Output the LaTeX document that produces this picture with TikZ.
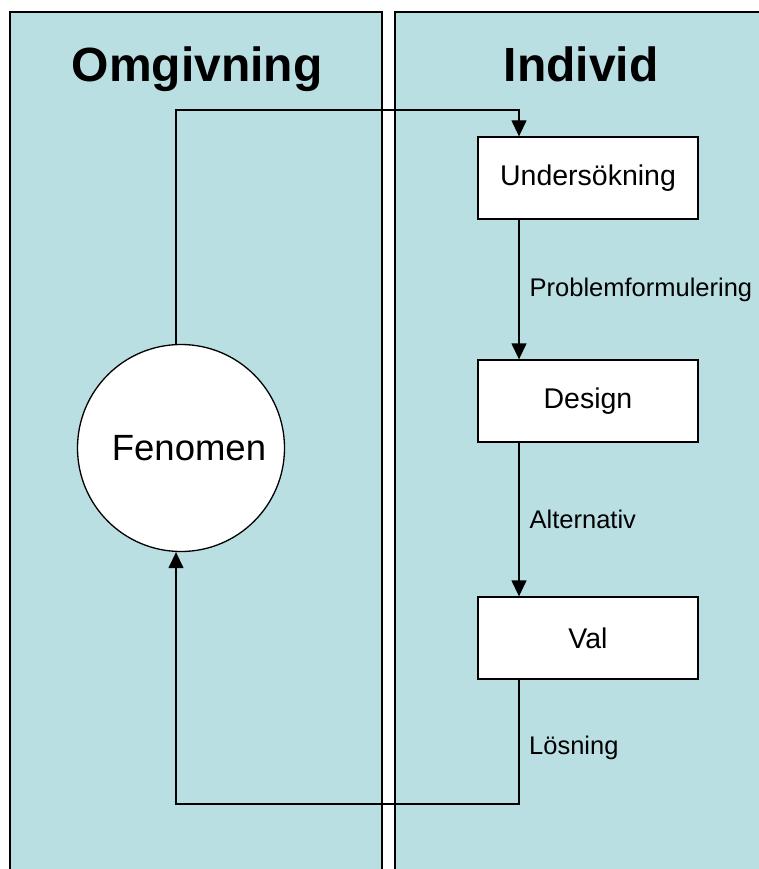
\documentclass[tikz,border=0pt]{standalone}
\usepackage{fontspec}
\setmainfont{Liberation Sans}
\usepackage{tikz}
\usetikzlibrary{arrows.meta}
\definecolor{panelblue}{RGB}{186,223,227}
\tikzset{
  panel/.style={draw=black,line width=2pt,fill=panelblue},
  stagebox/.style={draw=black,line width=1.3pt,fill=white,minimum width=220pt,minimum height=82pt,inner sep=0pt,font=\fontsize{28.5}{30}\selectfont},
  flow/.style={line width=1.3pt,-{Triangle[width=15pt,length=16pt]}},
  steplabel/.style={anchor=west,inner sep=0pt,font=\fontsize{25.5}{27}\selectfont},
  paneltitle/.style={anchor=base,inner sep=0pt,font=\fontsize{48}{50}\selectfont\bfseries}
}
\begin{document}
\begin{tikzpicture}[x=1pt,y=-1pt]
\useasboundingbox (0,0) rectangle (759,869);
\clip (0,0) rectangle (759,869);
% panels
\draw[panel] (10,12) rectangle (382,900);
\draw[panel] (395,12) rectangle (800,900);
\node[paneltitle] (omg) at (197,82) {Omgivning};
\node[paneltitle] (ind) at (581,82) {Individ};
% stages
\node[stagebox] (und) at (588,178) {Undersökning};
\node[stagebox] (des) at (588,401) {Design};
\node[stagebox] (val) at (588,638) {Val};
\node[draw=black,line width=1.3pt,fill=white,circle,minimum size=207pt,inner sep=0pt,font=\fontsize{36.5}{38}\selectfont] (fen) at (181,448) {\hspace*{16pt}Fenomen};
\coordinate (top) at (519,110);
\coordinate (bot) at (519,804);
\coordinate (left) at (176,448);
% connectors
\draw[flow] (fen.north -| left) |- (top) -- (und.north -| top);
\draw[flow] (und.south -| top) -- (des.north -| top)
  node[steplabel,pos=0.5,xshift=10pt] (prob) {Problemformulering};
\draw[flow] (des.south -| top) -- (val.north -| top)
  node[steplabel,pos=0.5,xshift=10pt] (alt) {Alternativ};
\draw[flow] (val.south -| top) -- (bot) -| (fen.south -| left);
\node[steplabel] (los) at (529,748) {Lösning};
\end{tikzpicture}
\end{document}
